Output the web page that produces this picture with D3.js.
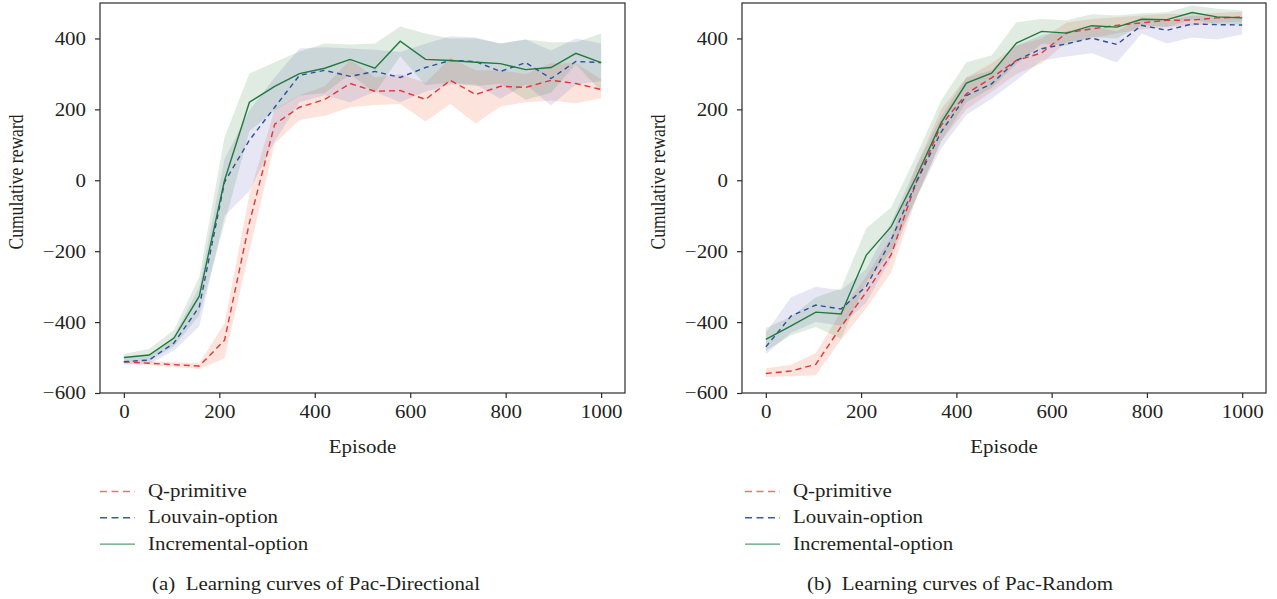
<!DOCTYPE html>
<html><head><meta charset="utf-8">
<script src="https://cdn.jsdelivr.net/npm/d3@7"></script>
<style>
body{margin:0;background:#fff}
svg{display:block}
text{font-family:"Liberation Serif","Times New Roman",serif;fill:#231f20}
</style>
</head><body>
<svg id="chart" width="1277" height="599"></svg>
<script>
// ---------- data ----------
const episodes = [0,53,105,158,211,263,316,368,421,474,526,579,632,684,737,789,842,895,947,1000];
const xTicks = [0,200,400,600,800,1000];
const yTicks = [-600,-400,-200,0,200,400];
const seriesNames = ["Q-primitive","Louvain-option","Incremental-option"];
const captions = ["(a)  Learning curves of Pac-Directional","(b)  Learning curves of Pac-Random"];
const xLabel = "Episode";
const yLabel = "Cumulative reward";

// (a) Pac-Directional
const qMeanA   = [-512,-516,-520,-524,-451,-120,158,206,228,273,251,253,228,282,242,265,262,282,273,256];
const qHiA     = [-508,-510,-513,-516,-403,-40,200,240,265,340,290,300,275,345,310,310,300,330,330,285];
const qLoA     = [-516,-522,-527,-532,-503,-200,104,170,182,206,212,215,166,215,160,208,220,225,217,231];
const louMeanA = [-512,-507,-459,-357,-5,113,206,296,310,293,307,290,318,338,335,307,332,287,335,332];
const louHiA   = [-500,-495,-440,-300,60,197,290,372,375,372,368,362,385,406,403,386,397,366,400,386];
const louLoA   = [-520,-518,-480,-412,-100,-30,110,220,240,220,250,220,250,270,270,230,270,211,270,280];
const incMeanA = [-500,-493,-445,-327,0,220,265,301,316,341,316,392,341,338,333,329,312,318,358,332];
const incHiA   = [-490,-476,-422,-273,121,301,333,363,386,383,386,434,414,400,400,386,397,389,389,414];
const incLoA   = [-510,-510,-468,-381,-121,139,197,239,246,299,246,350,268,276,266,272,227,247,327,250];

// (b) Pac-Random
const qMeanB   = [-545,-538,-519,-413,-315,-210,-5,155,244,289,338,359,416,427,437,444,451,452,458,460];
const qHiB     = [-530,-520,-487,-370,-270,-160,40,200,290,330,380,400,445,455,460,465,470,468,472,475];
const qLoB     = [-555,-553,-550,-450,-360,-260,-50,110,200,250,300,330,390,400,415,425,432,436,445,448];
const louMeanB = [-470,-383,-352,-363,-299,-169,-5,136,239,272,338,371,385,401,383,437,423,441,439,438];
const louHiB   = [-430,-330,-300,-310,-250,-120,40,180,290,310,380,410,420,435,420,460,450,465,460,462];
const louLoB   = [-490,-430,-400,-410,-345,-220,-50,90,185,230,282,338,349,358,332,414,386,403,397,411];
const incMeanB = [-449,-411,-372,-377,-211,-131,10,162,274,302,387,420,415,436,432,454,453,473,461,458];
const incHiB   = [-417,-385,-330,-305,-135,-77,70,225,333,352,446,455,451,468,465,471,474,493,484,479];
const incLoB   = [-481,-437,-414,-446,-287,-200,-50,110,220,260,328,385,380,405,400,437,432,453,440,440];

// ---------- styles ----------
const lineColors  = ["#e5343b","#2c4f9e","#1f7a3d"];
const fillColors  = ["#f07a50","#6a6ac0","#4a8a55"];
const fillOpacity = [0.2,0.17,0.17];
const legendColors= ["#ef7075","#3a5aa8","#5a9e72"];
const dashes      = ["6,4","5,4",null];

const FS = 18.5, SX = 1.13;   // font size and horizontal stretch of the source figure
const svg = d3.select("#chart");

function stretch(sel){
  sel.each(function(){
    const L = this.getComputedTextLength();
    d3.select(this).attr("textLength", L*SX).attr("lengthAdjust","spacingAndGlyphs");
  });
}

const panels = [
  {x0:100, x1:625, legendX:100, capX:152,
   series:[[qMeanA,qLoA,qHiA],[louMeanA,louLoA,louHiA],[incMeanA,incLoA,incHiA]]},
  {x0:742, x1:1266, legendX:745, capX:807,
   series:[[qMeanB,qLoB,qHiB],[louMeanB,louLoB,louHiB],[incMeanB,incLoB,incHiB]]}
];
const yTop = 3, yBot = 393;

panels.forEach((p, pi) => {
  const x = d3.scaleLinear().domain([-50,1050]).range([p.x0,p.x1]);
  const y = d3.scaleLinear().domain([-600,500]).range([yBot,yTop]);
  const g = svg.append("g");

  // bands
  p.series.forEach((s, si) => {
    const area = d3.area()
      .x((d,i) => x(episodes[i]))
      .y0((d,i) => y(s[1][i]))
      .y1((d,i) => y(s[2][i]));
    g.append("path").attr("d", area(s[0]))
      .attr("fill", fillColors[si]).attr("fill-opacity", fillOpacity[si]).attr("stroke","none");
  });
  // lines
  p.series.forEach((s, si) => {
    const line = d3.line().x((d,i) => x(episodes[i])).y(d => y(d));
    g.append("path").attr("d", line(s[0]))
      .attr("fill","none").attr("stroke", lineColors[si]).attr("stroke-width", 1.4)
      .attr("stroke-dasharray", dashes[si]);
  });

  // frame
  g.append("rect").attr("x", p.x0).attr("y", yTop).attr("width", p.x1-p.x0).attr("height", yBot-yTop)
    .attr("fill","none").attr("stroke","#2a2a2a").attr("stroke-width",1.2);

  // axes
  const fmt = d3.format("d");
  const ax = g.append("g").attr("transform",`translate(0,${yBot})`)
    .call(d3.axisBottom(x).tickValues(xTicks).tickSize(5).tickPadding(7).tickFormat(fmt));
  const ay = g.append("g").attr("transform",`translate(${p.x0},0)`)
    .call(d3.axisLeft(y).tickValues(yTicks).tickSize(5).tickPadding(9).tickFormat(fmt));
  [ax, ay].forEach(a => {
    a.select(".domain").remove();
    a.selectAll(".tick line").attr("stroke","#2a2a2a").attr("stroke-width",1.2);
    a.selectAll(".tick text").attr("font-size", FS).attr("font-family",'"Liberation Serif",serif').attr("fill","#231f20");
    stretch(a.selectAll(".tick text"));
  });

  // axis labels
  const xl = g.append("text").attr("x", (p.x0+p.x1)/2).attr("y", 453)
    .attr("text-anchor","middle").attr("font-size", FS).text(xLabel);
  stretch(xl);
  g.append("text").attr("transform", `translate(${p.x0-77},182) rotate(-90) scale(0.95,${SX})`)
    .attr("text-anchor","middle").attr("font-size", FS).text(yLabel);

  // legend
  seriesNames.forEach((name, si) => {
    const cy = 491.5 + si*26.3;
    g.append("line").attr("x1", p.legendX).attr("x2", p.legendX+35).attr("y1", cy).attr("y2", cy)
      .attr("stroke", legendColors[si]).attr("stroke-width", 1.4).attr("stroke-dasharray", dashes[si] ? "7,4.5" : null);
    const t = g.append("text").attr("x", p.legendX+48).attr("y", cy+5.5).attr("font-size", FS).text(name);
    stretch(t);
  });

  // caption
  const c = g.append("text").attr("x", p.capX).attr("y", 590).attr("font-size", FS)
    .style("white-space","pre").text(captions[pi]);
  stretch(c);
});
</script>
</body></html>
